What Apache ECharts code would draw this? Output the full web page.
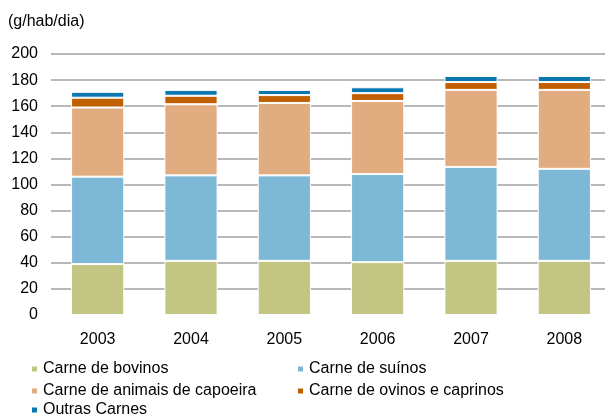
<!DOCTYPE html>
<html>
<head>
<meta charset="utf-8">
<script src="https://cdn.jsdelivr.net/npm/echarts@6/dist/echarts.min.js"></script>
<style>
  html, body { margin: 0; padding: 0; background: #fff; }
  #chart { width: 605px; height: 416px; }
</style>
</head>
<body>
<div id="chart"></div>
<script>
// anos e consumo (g/hab/dia) por tipo de carne
const years = ['2003', '2004', '2005', '2006', '2007', '2008']
const bovinos = [39, 41.5, 41.5, 40.5, 41.5, 41.5]
const suinos = [67, 65.5, 65.5, 67.5, 72, 70.5]
const capoeira = [53, 54.5, 55.5, 56, 59, 60.5]
const ovinos = [7.5, 6.5, 6, 6, 6, 6]
const outras = [4.5, 4.5, 4, 4.5, 4.7, 4.7]

const names = ['Carne de bovinos', 'Carne de suínos', 'Carne de animais de capoeira',
  'Carne de ovinos e caprinos', 'Outras Carnes']
const colors = ['#C3C582', '#7DB9D6', '#E0AC80', '#C05F00', '#0A78AE']
const values = [bovinos, suinos, capoeira, ovinos, outras]

const font = 'Liberation Sans, Arial, sans-serif'

const chart = echarts.init(document.getElementById('chart'))

// uma legenda por linha, para as colunas ficarem alinhadas
const legendBase = {
  orient: 'horizontal',
  itemWidth: 7,
  itemHeight: 7,
  itemGap: 0,
  icon: 'rect',
  selectedMode: false,
  padding: 0,
  textStyle: { fontSize: 16, fontFamily: font, color: '#000', lineHeight: 18 }
}

const option = {
  animation: false,
  title: {
    text: '(g/hab/dia)',
    left: 3,
    top: 9,
    textStyle: { fontSize: 16, fontWeight: 'normal', fontFamily: font, color: '#000' }
  },
  legend: [
    { ...legendBase, left: 30, top: 360, data: [names[0]] },
    { ...legendBase, left: 296, top: 360, data: [names[1]] },
    { ...legendBase, left: 30, top: 382, data: [names[2]] },
    { ...legendBase, left: 296, top: 382, data: [names[3]] },
    { ...legendBase, left: 30, top: 401, data: [names[4]] }
  ],
  grid: { left: 51, right: -6, top: 54, bottom: 101, outerBoundsMode: 'none' },
  xAxis: {
    type: 'category',
    data: years,
    axisTick: { show: false },
    axisLine: { show: true, lineStyle: { color: '#fff', width: 3 } },
    axisLabel: { fontSize: 16, fontFamily: font, color: '#000', margin: 17 }
  },
  yAxis: {
    type: 'value',
    min: 0,
    max: 200,
    interval: 20,
    axisLabel: { fontSize: 16, fontFamily: font, color: '#000', margin: 13 },
    splitLine: { lineStyle: { color: '#B8B8B8', width: 2 } }
  },
  series: values.map((v, i) => ({
    name: names[i],
    type: 'bar',
    stack: 'total',
    barWidth: '57%',
    data: v,
    itemStyle: { color: colors[i], borderColor: '#fff', borderWidth: 1 }
  }))
}

chart.setOption(option)
</script>
</body>
</html>
